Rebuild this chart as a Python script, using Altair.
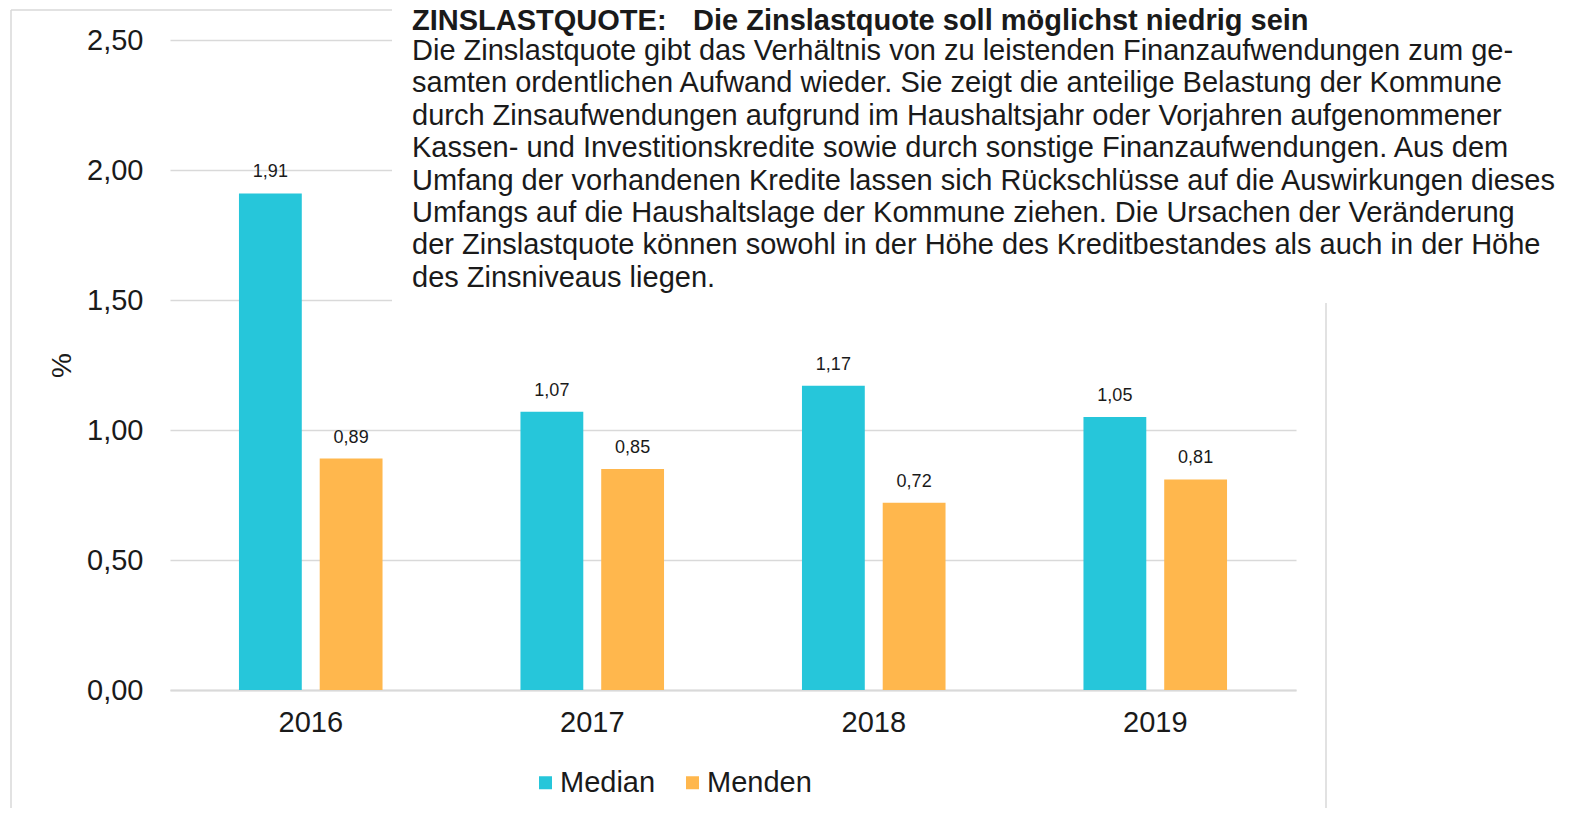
import altair as alt
import pandas as pd

years = ["2016", "2017", "2018", "2019"]
median = [1.91, 1.07, 1.17, 1.05]
menden = [0.89, 0.85, 0.72, 0.81]
series = ["Median", "Menden"]
colors = ["#26C6DA", "#FFB74D"]
y_ticks = [0, 0.5, 1.0, 1.5, 2.0, 2.5]

title_head = "ZINSLASTQUOTE:"
title_tail = "Die Zinslastquote soll möglichst niedrig sein"
body_lines = [
    "Die Zinslastquote gibt das Verhältnis von zu leistenden Finanzaufwendungen zum ge-",
    "samten ordentlichen Aufwand wieder. Sie zeigt die anteilige Belastung der Kommune",
    "durch Zinsaufwendungen aufgrund im Haushaltsjahr oder Vorjahren aufgenommener",
    "Kassen- und Investitionskredite sowie durch sonstige Finanzaufwendungen. Aus dem",
    "Umfang der vorhandenen Kredite lassen sich Rückschlüsse auf die Auswirkungen dieses",
    "Umfangs auf die Haushaltslage der Kommune ziehen. Die Ursachen der Veränderung",
    "der Zinslastquote können sowohl in der Höhe des Kreditbestandes als auch in der Höhe",
    "des Zinsniveaus liegen.",
]

FONT = "Liberation Sans"
TXT = "#1a1a1a"
W, H = 1126, 650

rows = []
for i, y in enumerate(years):
    rows.append({"Jahr": y, "Serie": series[0], "Wert": median[i]})
    rows.append({"Jahr": y, "Serie": series[1], "Wert": menden[i]})
df = pd.DataFrame(rows)

x_enc = alt.X("Jahr:N", sort=years,
              scale=alt.Scale(paddingInner=0.49, paddingOuter=0.245),
              axis=alt.Axis(title=None, labelAngle=0, labelFontSize=29, labelFont=FONT,
                            labelColor=TXT, labelPadding=18, ticks=False, grid=False,
                            domainColor="#D9D9D9", domainWidth=2))
xoff = alt.XOffset("Serie:N", sort=series, scale=alt.Scale(paddingInner=0.222, paddingOuter=0))
y_enc = alt.Y("Wert:Q", scale=alt.Scale(domain=[0, 2.5], nice=False),
              axis=alt.Axis(title="%", values=y_ticks, labelFontSize=29, labelFont=FONT,
                            labelColor=TXT, labelPadding=27, ticks=False, domain=False,
                            gridColor="#D9D9D9", gridWidth=1.5,
                            labelExpr="replace(format(datum.value, '.2f'), '.', ',')",
                            titleFont=FONT, titleFontSize=28, titleFontWeight="normal",
                            titleColor=TXT, titleAngle=-90, titleX=-108, titleY=325,
                            titleAlign="center", titleBaseline="middle"))

base = alt.Chart(df).encode(x=x_enc, xOffset=xoff, y=y_enc)

bars = base.mark_bar().encode(
    color=alt.Color("Serie:N", sort=series,
                    scale=alt.Scale(domain=series, range=colors),
                    legend=alt.Legend(title=None, orient="none", legendX=361, legendY=728,
                                      direction="horizontal", symbolType="square",
                                      symbolSize=169, symbolStrokeWidth=0,
                                      labelFontSize=29, labelFont=FONT, labelColor=TXT,
                                      labelOffset=0, columnPadding=22, padding=0)),
)

labels = base.mark_text(font=FONT, fontSize=18, color=TXT, baseline="alphabetic",
                        dy=-16).transform_calculate(
    lab="replace(format(datum.Wert, '.2f'), '.', ',')"
).encode(text="lab:N")

one = pd.DataFrame({"a": [0]})
box = alt.Chart(one).mark_rect(color="white").encode(
    x=alt.value(222), x2=alt.value(1500), y=alt.value(-48), y2=alt.value(263))

text_layers = []
text_layers.append(alt.Chart(pd.DataFrame({"t": [title_head]})).mark_text(
    font=FONT, fontSize=29, fontWeight="bold", color=TXT, align="left",
    baseline="alphabetic").encode(x=alt.value(242), y=alt.value(-10.5), text="t:N"))
text_layers.append(alt.Chart(pd.DataFrame({"t": [title_tail]})).mark_text(
    font=FONT, fontSize=29, fontWeight="bold", color=TXT, align="left",
    baseline="alphabetic").encode(x=alt.value(523), y=alt.value(-10.5), text="t:N"))
for i, line in enumerate(body_lines):
    text_layers.append(alt.Chart(pd.DataFrame({"t": [line]})).mark_text(
        font=FONT, fontSize=29, color=TXT, align="left", baseline="alphabetic"
    ).encode(x=alt.value(242), y=alt.value(20 + i * 32.4), text="t:N"))

frame_color = "#D9D9D9"
left_line = alt.Chart(one).mark_rule(color=frame_color, strokeWidth=1.5).encode(
    x=alt.value(-159), y=alt.value(-30), y2=alt.value(900))
top_line = alt.Chart(one).mark_rule(color=frame_color, strokeWidth=1.5).encode(
    x=alt.value(-159), x2=alt.value(222), y=alt.value(-30))
right_line = alt.Chart(one).mark_rule(color=frame_color, strokeWidth=1.5).encode(
    x=alt.value(1156), y=alt.value(263), y2=alt.value(900))

chart = alt.layer(bars, labels, box, *text_layers, left_line, top_line, right_line).properties(
    width=W, height=H,
    padding={"left": 162, "top": 32, "right": 265, "bottom": 118},
    autosize=alt.AutoSizeParams(type="none"),
).configure(font=FONT).configure_view(stroke=None, strokeWidth=0)

chart.save("out.html", embed_options={"renderer": "svg", "actions": False})
